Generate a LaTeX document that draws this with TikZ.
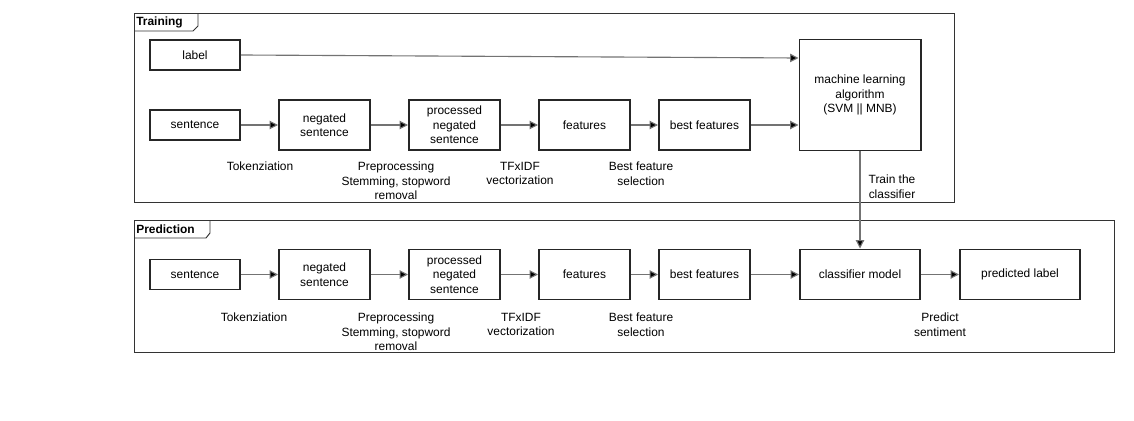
\documentclass[tikz,border=0pt]{standalone}
\usepackage{fontspec}
\setmainfont{Liberation Sans}
\usepackage{tikz}
\usetikzlibrary{positioning}
\usetikzlibrary{calc,arrows.meta}

\tikzset{
	stage/.style={draw=black!85, line width=1.4pt, inner sep=0pt, align=center,
		minimum width=2.275cm, minimum height=1.25cm, font=\fontsize{8.5}{10.3}\selectfont},
	small stage/.style={stage, minimum width=2.25cm, minimum height=0.75cm},
	step text/.style={align=center, inner sep=0pt, font=\fontsize{8.5}{10.3}\selectfont},
	frame/.style={draw=black!80, line width=0.7pt},
	flow/.style={draw=black!55, line width=0.8pt, -{Triangle[length=6pt,width=6pt,fill=black]}},
}

\begin{document}
\begin{tikzpicture}[x=0.025cm, y=-0.025cm]

	% Proper size --- Bounding box
	\useasboundingbox (0,0) rectangle (1134,421);

	% ------------------------------------------------
	% FRAMES
	% ------------------------------------------------
	\draw[frame] (134,13) rectangle (954,202);
	\draw[frame] (134,31) -- (193,31) -- (198,26) -- (198,13);
	\node[anchor=west, inner sep=0pt, font=\fontsize{8.5}{10}\selectfont\bfseries] (TrainTitle) at (136,22) {Training};

	\draw[frame] (134,220) rectangle (1114,352);
	\draw[frame] (134,238) -- (206,238) -- (210,233) -- (210,220);
	\node[anchor=west, inner sep=0pt, font=\fontsize{8.5}{10}\selectfont\bfseries] (PredTitle) at (136,229) {Prediction};

	% ------------------------------------------------
	% TRAINING
	% ------------------------------------------------
	\node[small stage] (Tlabel) at (195,55) {label};
	\node[small stage] (T0) at (195,125) {sentence};
	\node[stage] (T1) at (324.5,125) {negated\\sentence};
	\node[stage] (T2) at (454.5,125) {processed\\negated\\sentence};
	\node[stage] (T3) at (584.5,125) {features};
	\node[stage] (T4) at (704.5,125) {best features};
	\node[stage, minimum width=3.025cm, minimum height=2.775cm] (ML) at (860,95)
		{machine learning\\algorithm\\(SVM || MNB)};

	\draw[flow] (Tlabel.east) -- ($(Tlabel.east -| ML.west)+(0,3)$);
	\draw[flow] (T0) -- (T1);
	\draw[flow] (T1) -- (T2);
	\draw[flow] (T2) -- (T3);
	\draw[flow] (T3) -- (T4);
	\draw[flow] (T4.east) -- (T4.east -| ML.west);

	\node[step text, anchor=north] (TS1) at (260,162) {Tokenziation};
	\node[step text, anchor=north] (TS2) at (396,162) {Preprocessing\\Stemming, stopword\\removal};
	\node[step text, anchor=north] (TS3) at (520,162) {TFxIDF\\vectorization};
	\node[step text, anchor=north] (TS4) at (641,162) {Best feature\\selection};
	\node[step text, anchor=north] (TS5) at (892,175) {Train the\\classifier};

	% ------------------------------------------------
	% PREDICTION
	% ------------------------------------------------
	\node[small stage] (P0) at (195,274.5) {sentence};
	\node[stage] (P1) at (324.5,274.5) {negated\\sentence};
	\node[stage] (P2) at (454.5,274.5) {processed\\negated\\sentence};
	\node[stage] (P3) at (584.5,274.5) {features};
	\node[stage] (P4) at (704.5,274.5) {best features};
	\node[stage, minimum width=3cm] (CM) at (860,274.5) {classifier model};
	\node[stage, minimum width=3cm] (PL) at (1020,274.5) {predicted label};

	\draw[flow] (P0) -- (P1);
	\draw[flow] (P1) -- (P2);
	\draw[flow] (P2) -- (P3);
	\draw[flow] (P3) -- (P4);
	\draw[flow] (P4) -- (CM);
	\draw[flow] (CM) -- (PL);

	% trained model goes down
	\draw[flow] (ML.south) -- (CM.north);

	\node[step text, anchor=north] (PS1) at (254,313) {Tokenziation};
	\node[step text, anchor=north] (PS2) at (396,313) {Preprocessing\\Stemming, stopword\\removal};
	\node[step text, anchor=north] (PS3) at (521,313) {TFxIDF\\vectorization};
	\node[step text, anchor=north] (PS4) at (641,313) {Best feature\\selection};
	\node[step text, anchor=north] (PS5) at (940,313) {Predict\\sentiment};

\end{tikzpicture}
\end{document}
